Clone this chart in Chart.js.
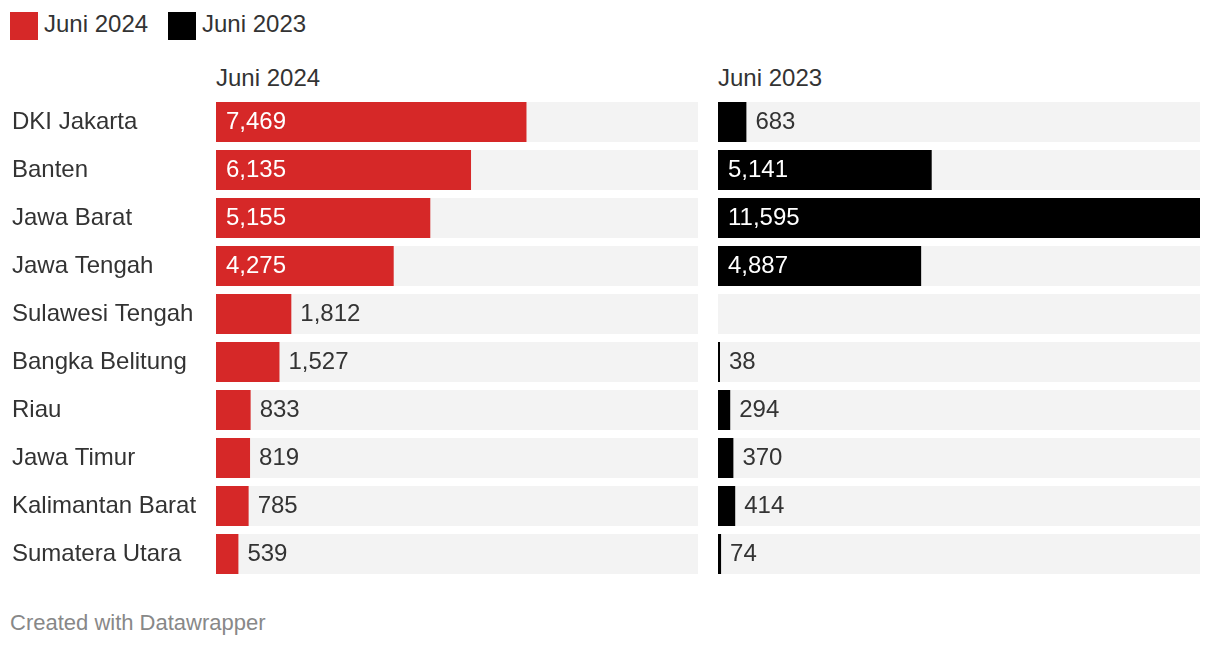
<!DOCTYPE html>
<html>
<head>
<meta charset="utf-8">
<script src="https://cdn.jsdelivr.net/npm/chart.js@4.4.1/dist/chart.umd.min.js"></script>
<style>
  html, body { margin: 0; padding: 0; background: #fff; }
  body { width: 1220px; height: 648px; position: relative; overflow: hidden;
         font-family: 'Liberation Sans', Arial, Helvetica, sans-serif; color: #333; }
  .abs { position: absolute; }
  .sw { position: absolute; width: 28px; height: 28px; }
  .lt { position: absolute; font-size: 24px; line-height: 28px; white-space: nowrap; }
  .hd { position: absolute; font-size: 24px; line-height: 28px; white-space: nowrap; }
  .ft { position: absolute; font-size: 22px; color: #888; white-space: nowrap; line-height: 24px; }
</style>
</head>
<body>
<div class="sw" style="left:10px;top:12px;background:#d62828"></div>
<div class="lt" style="left:44px;top:10px">Juni 2024</div>
<div class="sw" style="left:168px;top:12px;background:#000"></div>
<div class="lt" style="left:202px;top:10px">Juni 2023</div>

<div class="hd" style="left:216px;top:64px">Juni 2024</div>
<div class="hd" style="left:718px;top:64px">Juni 2023</div>

<div class="abs" style="left:12px;top:98px;width:686px;height:480px"><canvas id="c1"></canvas></div>
<div class="abs" style="left:718px;top:98px;width:482px;height:480px"><canvas id="c2"></canvas></div>

<div class="ft" style="left:10px;top:611px">Created with Datawrapper</div>

<script>
const categories = ['DKI Jakarta','Banten','Jawa Barat','Jawa Tengah','Sulawesi Tengah','Bangka Belitung','Riau','Jawa Timur','Kalimantan Barat','Sumatera Utara'];
const seriesNames = ['Juni 2024','Juni 2023'];
const juni2024 = [7469, 6135, 5155, 4275, 1812, 1527, 833, 819, 785, 539];
const juni2023 = [683, 5141, 11595, 4887, null, 38, 294, 370, 414, 74];

const MAXV = Math.max(...juni2024, ...juni2023.filter(v => v !== null));
const FONT = "'Liberation Sans', Arial, Helvetica, sans-serif";
const FS = 24;

const valueLabels = {
  id: 'valueLabels',
  afterDatasetsDraw(chart) {
    const ctx = chart.ctx;
    const meta = chart.getDatasetMeta(0);
    const data = chart.data.datasets[0].data;
    ctx.save();
    ctx.font = FS + 'px ' + FONT;
    ctx.textBaseline = 'middle';
    ctx.textAlign = 'left';
    meta.data.forEach((bar, i) => {
      const v = data[i];
      if (v === null || v === undefined) return;
      const txt = v.toLocaleString('en-US');
      const tw = ctx.measureText(txt).width;
      const w = bar.x - bar.base;
      if (tw + 20 < w) {
        ctx.fillStyle = '#fff';
        ctx.fillText(txt, bar.base + 10, bar.y);
      } else {
        ctx.fillStyle = '#333';
        ctx.fillText(txt, Math.max(bar.x, bar.base + 2) + 9, bar.y);
      }
    });
    ctx.restore();
  }
};

function makeChart(id, values, color, showLabels) {
  return new Chart(document.getElementById(id), {
    type: 'bar',
    data: {
      labels: categories,
      datasets: [
        { label: id === 'c1' ? seriesNames[0] : seriesNames[1], data: values, backgroundColor: color,
          grouped: false, order: 0, barPercentage: 40/48, categoryPercentage: 1, minBarLength: 2 },
        { label: 'bg', data: categories.map(() => MAXV), backgroundColor: '#f3f3f3',
          grouped: false, order: 1, barPercentage: 40/48, categoryPercentage: 1 }
      ]
    },
    options: {
      indexAxis: 'y',
      responsive: true,
      maintainAspectRatio: false,
      animation: false,
      layout: { padding: 0 },
      plugins: { legend: { display: false }, tooltip: { enabled: false } },
      scales: {
        x: { display: false, min: 0, max: MAXV, grid: { display: false } },
        y: {
          display: showLabels,
          grid: { display: false, drawTicks: false },
          border: { display: false },
          ticks: { crossAlign: 'far', padding: 0, color: '#333', font: { family: FONT, size: FS } },
          afterFit(scale) {
            if (showLabels) { scale.width = 204; } else { scale.width = 0; }
            scale.paddingTop = 0; scale.paddingBottom = 0;
          }
        }
      }
    },
    plugins: [valueLabels]
  });
}

makeChart('c1', juni2024, '#d62828', true);
makeChart('c2', juni2023, '#000000', false);
</script>
</body>
</html>
